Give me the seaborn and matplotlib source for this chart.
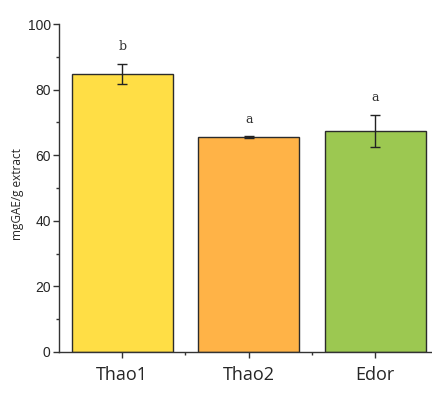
import pandas as pd
import numpy as np
import seaborn as sns
import matplotlib.pyplot as plt
from matplotlib.ticker import MultipleLocator, FixedLocator

samples = ['Thao1', 'Thao2', 'Edor']
means = [84.7, 65.5, 67.4]
errs = [3.1, 0.3, 4.9]
letters = ['b', 'a', 'a']
colors = ['#FFDE45', '#FFB347', '#9CC851']

sns.set_style('ticks')
plt.rcParams['font.family'] = ['Liberation Sans', 'DejaVu Sans']

data = pd.DataFrame({'sample': samples, 'value': means})

fig = plt.figure(figsize=(4.32, 4.19), dpi=100)
ax = fig.add_axes([0.1366, 0.16, 0.8634, 0.7827])
sns.barplot(data=data, x='sample', y='value', hue='sample', palette=colors,
            width=0.8, edgecolor='#2b2b2b', linewidth=1.0, saturation=1,
            legend=False, ax=ax)
ax.errorbar(range(len(samples)), means, yerr=errs, fmt='none',
            ecolor='#222222', elinewidth=1.0, capsize=3.5, capthick=1.0)
for i, (m, e, t) in enumerate(zip(means, errs, letters)):
    ax.text(i, m + e + 5.2, t, ha='center', va='center', fontsize=9,
            family='DejaVu Serif', color='#333333')

ax.set_ylim(0, 100)
ax.set_xlim(-0.5, 2.45)
ax.yaxis.set_major_locator(MultipleLocator(20))
ax.yaxis.set_minor_locator(MultipleLocator(10))
ax.xaxis.set_minor_locator(FixedLocator([0.5, 1.5]))
ax.tick_params(axis='both', which='major', direction='out', length=4, width=1, color='#333333')
ax.tick_params(axis='both', which='minor', direction='out', length=2.5, width=1, color='#333333')
ax.tick_params(axis='y', labelsize=10, pad=2)
ax.tick_params(axis='x', labelsize=13, pad=6)
for lab in ax.get_xticklabels():
    lab.set_family(['Open Sans', 'DejaVu Sans'])
ax.set_xlabel('')
ax.set_ylabel('mgGAE/g extract', fontsize=8.5, family=['Open Sans', 'DejaVu Sans'])
ax.yaxis.set_label_coords(-0.095, 0.48)
ax.spines['top'].set_visible(False)
ax.spines['right'].set_visible(False)
for s in ['left', 'bottom']:
    ax.spines[s].set_color('#333333')
    ax.spines[s].set_linewidth(1.0)

fig.savefig('out.png', dpi=100)
